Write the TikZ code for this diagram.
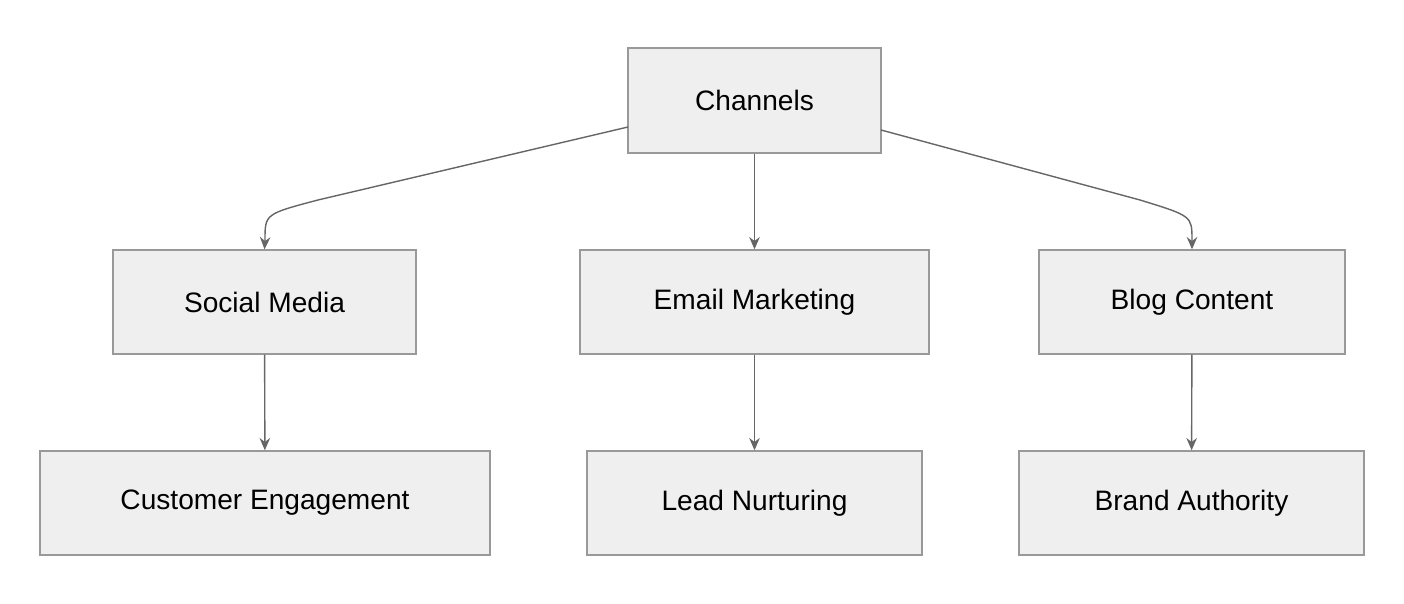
\documentclass[tikz,border=0pt]{standalone}
\usepackage{fontspec}
\setmainfont{Liberation Sans}
\usetikzlibrary{arrows.meta}
\definecolor{boxfill}{HTML}{EFEFEF}
\definecolor{boxline}{HTML}{999999}
\definecolor{arrline}{HTML}{666666}
\tikzset{
  box/.style={draw=boxline, fill=boxfill, line width=0.8pt, minimum height=2.08cm,
    inner sep=0pt, font=\fontsize{16}{19}\selectfont},
  arr/.style={draw=arrline, line width=0.8pt, -{Stealth[length=7pt,width=6pt]}}
}
\begin{document}
\begin{tikzpicture}[x=0.02cm, y=-0.02cm]
\useasboundingbox (0,0) rectangle (1404,604);
% top
\node[box, minimum width=5.06cm, minimum height=2.1cm] (ch) at (754.5,100.5) {Channels};
% middle row
\node[box, minimum width=6.06cm] (sm) at (264.5,302) {Social Media};
\node[box, minimum width=6.98cm] (em) at (754.5,302) {Email Marketing};
\node[box, minimum width=6.12cm] (bc) at (1192,302) {Blog Content};
% bottom row
\node[box, minimum width=9.0cm] (ce) at (265,503) {Customer Engagement};
\node[box, minimum width=6.7cm] (ln) at (754.5,503) {Lead Nurturing};
\node[box, minimum width=6.9cm] (ba) at (1191.5,503) {Brand Authority};
% bends
\coordinate (l1) at (628,127);
\coordinate (l2) at (318,200);
\coordinate (r1) at (881,130);
\coordinate (r2) at (1140,200);
\draw[arr] (l1) -- (l2) .. controls (265,214) .. (265,240) -- (sm.north);
\draw[arr] (r1) -- (r2) .. controls (1192,216) .. (1192,240) -- (bc.north);
\draw[arr] (ch) -- (em);
\draw[arr] (sm) -- (ce);
\draw[arr] (em) -- (ln);
\draw[arr] (bc) -- (ba);
\end{tikzpicture}
\end{document}
